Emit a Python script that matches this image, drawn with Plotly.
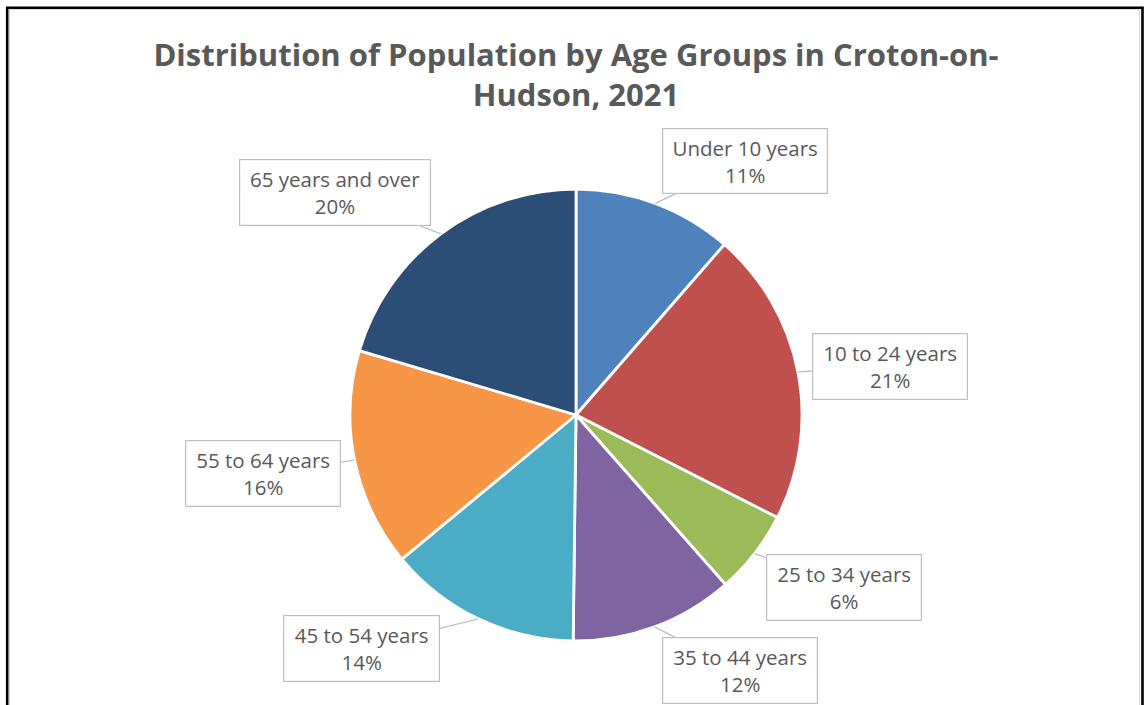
import math
import plotly.graph_objects as go

# ---- data ----
age_groups = ["Under 10 years", "10 to 24 years", "25 to 34 years", "35 to 44 years",
              "45 to 54 years", "55 to 64 years", "65 years and over"]
shares = [11.4, 21.1, 6.0, 11.7, 13.8, 15.6, 20.4]
slice_colors = ["#4F81BD", "#C0504D", "#9BBB59", "#8064A2", "#4BACC6", "#F79646", "#2C4D75"]
title_text = "Distribution of Population by Age Groups in Croton-on-<br>Hudson, 2021"

# ---- layout (pixels) ----
W, H = 1148, 705
CX, CY, R = 576, 415, 226
# callout boxes: centre x, centre y, width, height (pixels)
boxes = [(745, 161, 166, 66), (890, 366, 156, 67), (844, 587, 156, 67), (740, 670, 156, 67),
         (361, 648, 157, 67), (263, 473, 156, 67), (335, 193, 192, 67)]

def px(x):
    return x / W

def py(y):
    return 1 - y / H

fig = go.Figure(go.Pie(
    labels=age_groups, values=shares, sort=False, direction="clockwise", rotation=0,
    marker=dict(colors=slice_colors, line=dict(color="white", width=2.8)),
    textinfo="none", hoverinfo="label+percent", showlegend=False,
    domain=dict(x=[px(CX - R), px(CX + R)], y=[py(CY + R), py(CY - R)]),
))

total = sum(shares)
annotations = []
cum = 0.0
for name, v, (bx, by, bw, bh) in zip(age_groups, shares, boxes):
    mid = (cum + v / 2) / total * 2 * math.pi
    cum += v
    tx = CX + R * math.sin(mid)
    ty = CY - R * math.cos(mid)
    pct = int(math.floor(v / total * 100 + 0.5))
    annotations.append(dict(
        x=px(tx), y=py(ty), xref="paper", yref="paper",
        text=f"{name}<br>{pct}%", showarrow=True, arrowhead=0, arrowwidth=1.3,
        arrowcolor="#BFBFBF", standoff=0, startstandoff=0,
        ax=bx - tx, ay=by - ty, axref="pixel", ayref="pixel",
        width=bw - 2, height=bh - 2, borderpad=0, bordercolor="#BFBFBF", borderwidth=1.2,
        bgcolor="white", align="center", valign="middle",
        font=dict(family="Open Sans", size=20.5, color="#595959"),
    ))

shapes = [
    dict(type="rect", xref="paper", yref="paper", x0=px(9.5), x1=px(1139.5), y0=py(740), y1=py(9.5),
         line=dict(color="#D9D9D9", width=1), fillcolor="rgba(0,0,0,0)", layer="above"),
    dict(type="rect", xref="paper", yref="paper", x0=px(7.2), x1=px(1142.5), y0=py(740), y1=py(7.8),
         line=dict(color="black", width=2.6), fillcolor="rgba(0,0,0,0)", layer="above"),
]

fig.update_layout(
    width=W, height=H, margin=dict(l=0, r=0, t=0, b=0),
    paper_bgcolor="white", plot_bgcolor="white",
    title=dict(text=title_text, x=px(576), xanchor="center", xref="paper",
               y=py(66), yanchor="middle", yref="paper",
               font=dict(family="Open Sans", size=31, color="#595959", weight="bold")),
    annotations=annotations, shapes=shapes,
)

fig.write_html("out.html", config={"displayModeBar": False},
               post_script="document.body.style.margin='0';document.body.style.overflow='hidden';")
